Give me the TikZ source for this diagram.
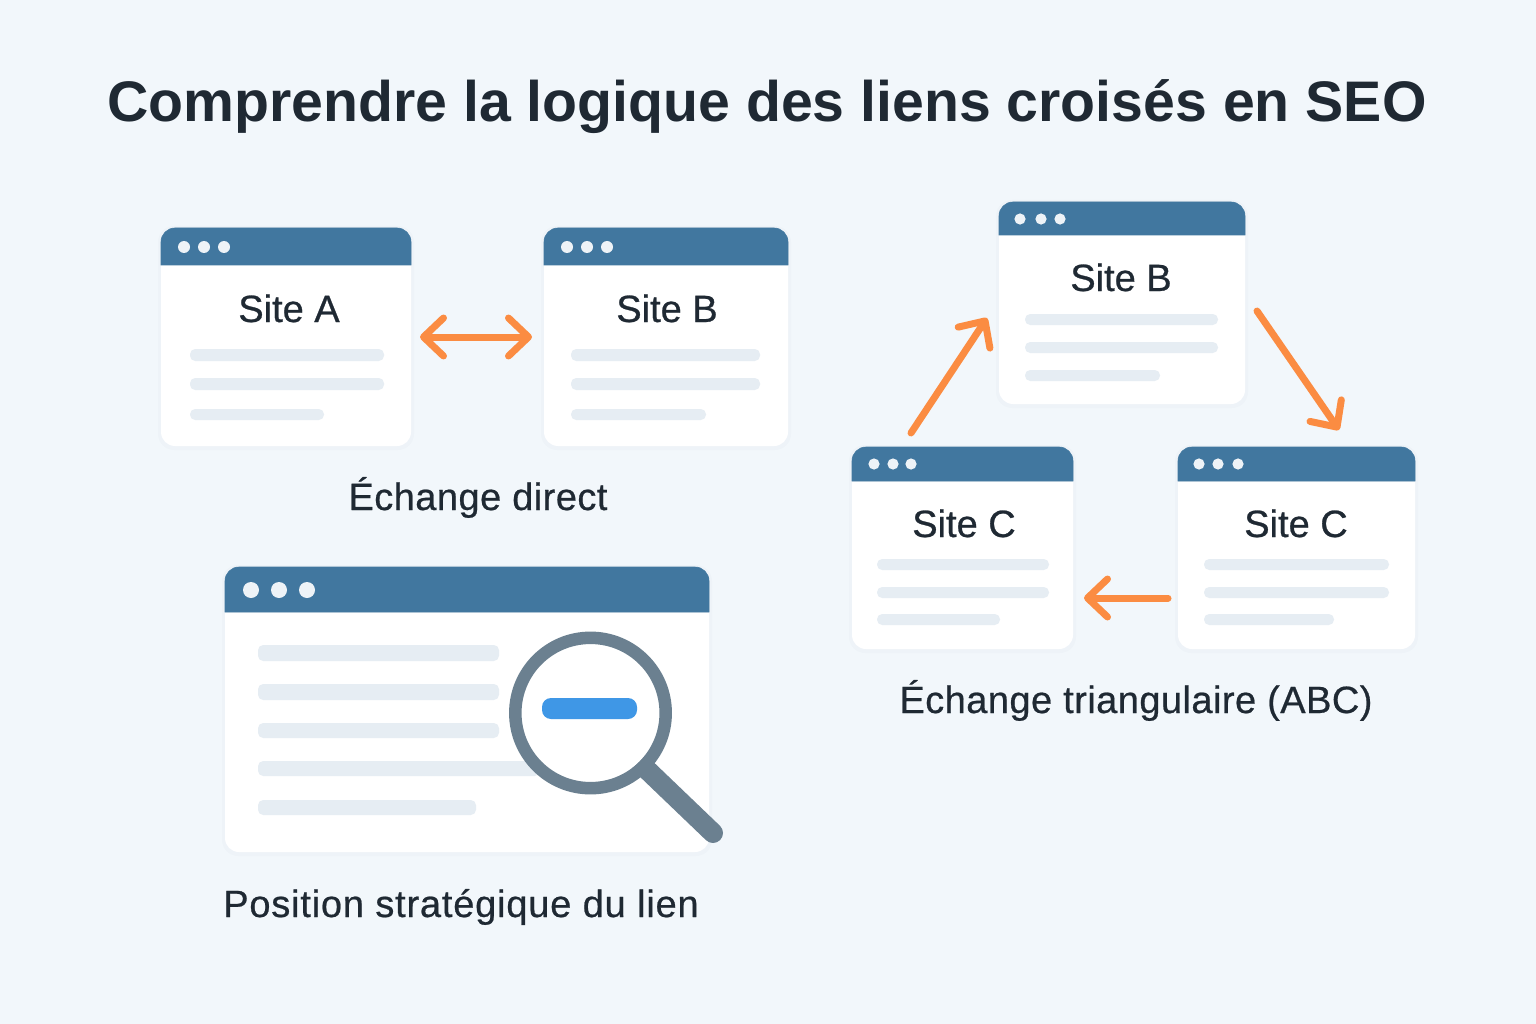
\documentclass[tikz,border=0pt]{standalone}
\usepackage{fontspec}
\setmainfont{Liberation Sans}
\newfontfamily\medfont[FakeBold=0.7]{Liberation Sans}
\newfontfamily\capfont[FakeBold=0.6,LetterSpace=1.2]{Liberation Sans}
\newfontfamily\posfont[FakeBold=0.6,LetterSpace=2.1]{Liberation Sans}
\usetikzlibrary{arrows.meta,calc}
\definecolor{bgc}{HTML}{F2F7FB}
\definecolor{headc}{HTML}{41779F}
\definecolor{pillc}{HTML}{E6EDF3}
\definecolor{inkc}{HTML}{1F2933}
\definecolor{orangec}{HTML}{FB8C42}
\definecolor{lensc}{HTML}{6B8090}
\definecolor{bluec}{HTML}{3F97E6}
\definecolor{dotc}{HTML}{EEF3F7}
\tikzset{
  sitelabel/.style={text=inkc,font=\medfont\fontsize{38}{44}\selectfont,inner sep=0pt,anchor=base},
  caption/.style={text=inkc,font=\capfont\fontsize{38}{44}\selectfont,inner sep=0pt,anchor=base},
  poscaption/.style={text=inkc,font=\posfont\fontsize{38}{44}\selectfont,inner sep=0pt,anchor=base},
  linkarrow/.style={draw=orangec,line width=7pt,line cap=round,
    -{Straight Barb[length=20pt,width=38pt,round]}},
  linkboth/.style={linkarrow,{Straight Barb[length=20pt,width=38pt,round]}-{Straight Barb[length=20pt,width=38pt,round]}},
  winbody/.style={fill=white,rounded corners=14pt,inner sep=0pt,outer sep=0pt,anchor=north west},
}
% name, x0, y0, x1, y1, header bottom, dot radius, dot y, dot x list
\newcommand{\sitewin}[9]{%
  \fill[black!30!headc,opacity=.02,rounded corners=16pt] (#2-3,#3-2) rectangle (#4+3,#5+4);
  \pgfmathsetmacro{\winw}{#4-#2}\pgfmathsetmacro{\winh}{#5-#3}
  \node[winbody,minimum width=\winw pt,minimum height=\winh pt] (#1) at (#2,#3) {};
  \filldraw[headc,line width=.6pt] (#2,#6) [rounded corners=14pt] -- (#2,#3) -- (#4,#3) [sharp corners] -- (#4,#6) -- cycle;
  \foreach \dx in {#9} \fill[dotc] (\dx,#8) circle (#7pt);
}
% x0, x1, y0, y1
\newcommand{\pillbar}[4]{\fill[pillc,rounded corners=5.2pt] (#1,#3) rectangle (#2,#4);}
\begin{document}
\begin{tikzpicture}[x=1pt,y=-1pt]
\useasboundingbox (0,0) rectangle (1536,1024);
\fill[bgc] (0,0) rectangle (1536,1024);
\node[text=inkc,font=\fontsize{57.2}{70}\bfseries\selectfont,inner sep=0pt,anchor=base] (title) at (767,122) {Comprendre la logique des liens croisés en SEO};

% Direct exchange
\sitewin{siteA}{161}{228}{411}{446}{265}{6}{247}{184,204,224}
\node[sitelabel] (labA) at (289,322) {Site A};
\pillbar{190}{384}{349}{361}\pillbar{190}{384}{378}{390}\pillbar{190}{324}{409}{420}
\sitewin{siteB}{544}{228}{788}{446}{265}{6}{247}{567,587,607}
\node[sitelabel] (labB) at (667,322) {Site B};
\pillbar{571}{760}{349}{361}\pillbar{571}{760}{378}{390}\pillbar{571}{706}{409}{420}
\draw[linkboth,shorten <=9pt,shorten >=12pt] (siteA.east) -- (siteB.west);
\node[caption] (capdirect) at (478,510) {Échange direct};

% Triangular exchange
\sitewin{triB}{999}{202}{1245}{404}{235}{5.6}{219}{1020,1041,1060}
\node[sitelabel] (labTB) at (1121,291) {Site B};
\pillbar{1025}{1218}{314}{325}\pillbar{1025}{1218}{342}{353}\pillbar{1025}{1160}{370}{381}
\sitewin{triL}{852}{447}{1073}{649}{481}{5.6}{464}{874,893,911}
\node[sitelabel] (labTL) at (964,537) {Site C};
\pillbar{877}{1049}{559}{570}\pillbar{877}{1049}{587}{598}\pillbar{877}{1000}{614}{625}
\sitewin{triR}{1178}{447}{1415}{649}{481}{5.6}{464}{1199,1218,1238}
\node[sitelabel] (labTR) at (1296,537) {Site C};
\pillbar{1204}{1389}{559}{570}\pillbar{1204}{1389}{587}{598}\pillbar{1204}{1334}{614}{625}
\coordinate (a1s) at (911,433);\coordinate (a1e) at (987,318);
\coordinate (a2s) at (1257,311);\coordinate (a2e) at (1339,430);
\coordinate (a3s) at (1168,598);\coordinate (a3e) at (1084,598);
\draw[linkarrow] (a1s) -- (a1e);
\draw[linkarrow] (a2s) -- (a2e);
\draw[linkarrow] (a3s) -- (a3e);
\node[caption] (captri) at (1136,713) {Échange triangulaire (ABC)};

% Strategic position
\sitewin{page}{225}{567}{709}{852}{612}{8}{590}{251,279,307}
\pillbar{258}{499}{645}{661}\pillbar{258}{499}{684}{700}\pillbar{258}{499}{723}{738}
\pillbar{258}{540}{761}{776}\pillbar{258}{476}{800}{815}
\draw[lensc,line width=20pt,line cap=round] (640,763) -- (713,833);
\fill[white] (590.5,713) circle (69pt);
\draw[lensc,line width=12.5pt] (590.5,713) circle (75.2pt);
\fill[bluec,rounded corners=9pt] (542,698) rectangle (637,719);
\node[poscaption] (cappos) at (461,917) {Position stratégique du lien};
\end{tikzpicture}
\end{document}
